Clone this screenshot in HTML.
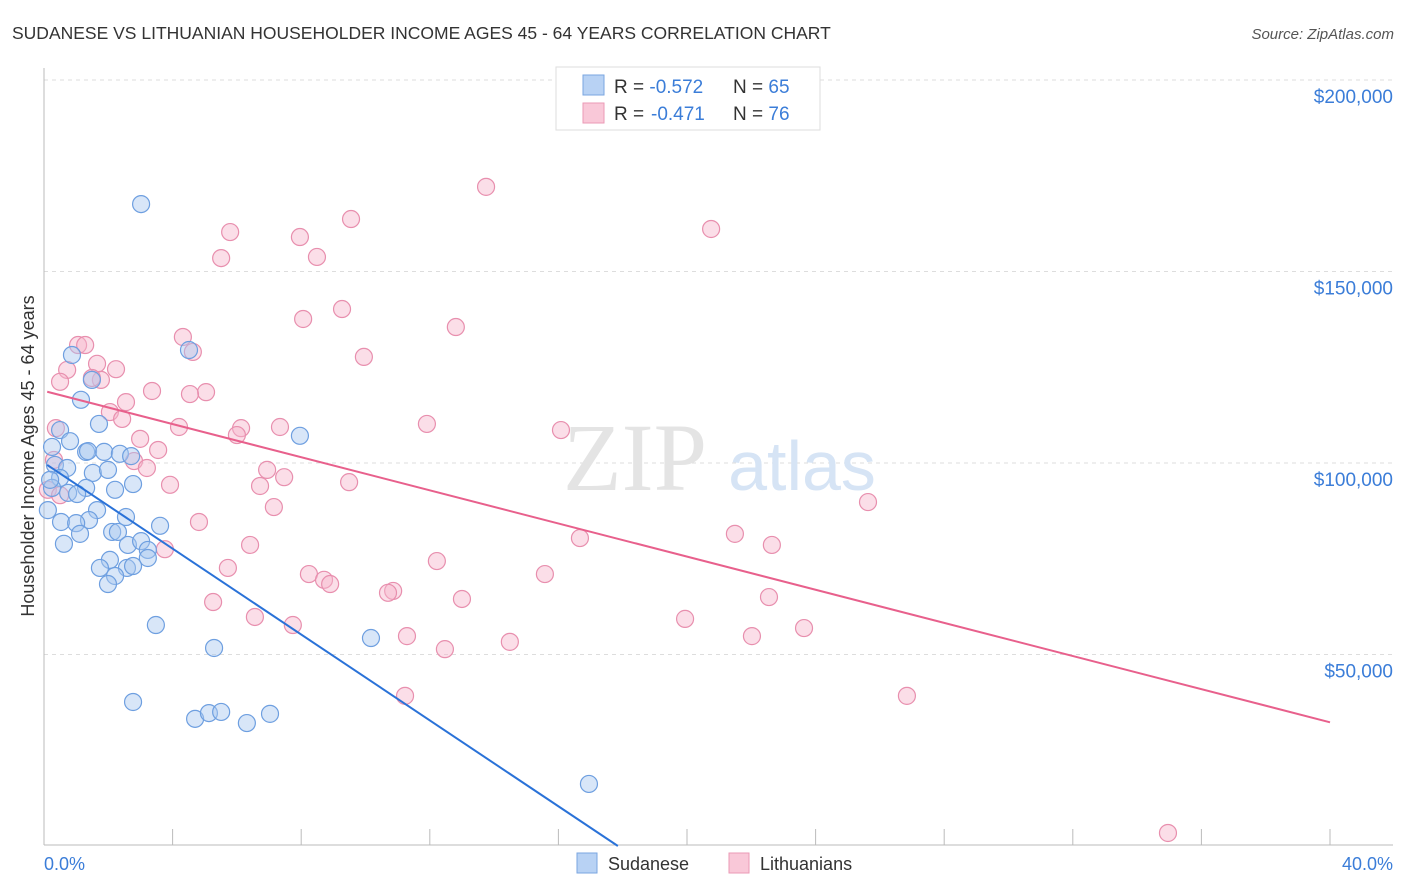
<!DOCTYPE html>
<html><head><meta charset="utf-8">
<style>
body{margin:0;background:#fff;font-family:"Liberation Sans",sans-serif;}
svg{display:block}
</style></head>
<body>
<svg id="chart" width="1406" height="892" viewBox="0 0 1406 892">
<text x="12" y="39" font-size="17.5" fill="#333">SUDANESE VS LITHUANIAN HOUSEHOLDER INCOME AGES 45 - 64 YEARS CORRELATION CHART</text>
<text x="1394" y="39" font-size="15" fill="#555" font-style="italic" text-anchor="end">Source: ZipAtlas.com</text>
<g id="grid"></g>
<text x="635" y="490" font-size="96" fill="#e4e4e4" font-family="Liberation Serif,serif" text-anchor="middle">ZIP</text>
<text x="802" y="490" font-size="70" fill="#d6e4f5" text-anchor="middle">atlas</text>
<line x1="44" y1="68" x2="44" y2="845" stroke="#bbb"/>
<line x1="44" y1="845" x2="1393" y2="845" stroke="#bbb"/>
<g id="xticks"></g>
<g id="ylabels"></g>
<text transform="translate(34,456) rotate(-90)" font-size="18" fill="#333" text-anchor="middle">Householder Income Ages 45 - 64 years</text>
<text x="44" y="870" font-size="18" fill="#3b7dd8">0.0%</text>
<text x="1393" y="870" font-size="18" fill="#3b7dd8" text-anchor="end">40.0%</text>
<g id="points-lit"></g>
<g id="points-sud"></g>
<g id="lines"></g>
<g>
<rect x="556" y="67" width="264" height="63" fill="#fff" stroke="#ddd"/>
<rect x="583" y="75" width="21" height="20" fill="#b8d2f4" stroke="#7aa6e0"/>
<rect x="583" y="103" width="21" height="20" fill="#f9c8d8" stroke="#eb9ab6"/>
<text x="614" y="93" font-size="19" fill="#333">R = <tspan fill="#3b7dd8">-0.572</tspan><tspan x="733">N = </tspan><tspan fill="#3b7dd8">65</tspan></text>
<text x="614" y="120" font-size="19" fill="#333">R = <tspan fill="#3b7dd8" x="651">-0.471</tspan><tspan x="733">N = </tspan><tspan fill="#3b7dd8">76</tspan></text>
</g>
<g>
<rect x="577" y="853" width="20" height="20" fill="#b8d2f4" stroke="#7aa6e0"/>
<text x="608" y="870" font-size="18" fill="#333">Sudanese</text>
<rect x="729" y="853" width="20" height="20" fill="#f9c8d8" stroke="#eb9ab6"/>
<text x="760" y="870" font-size="18" fill="#333">Lithuanians</text>
</g>
</svg>
<script>
const yTicks=[50,100,150,200];
const yTickLabels=["$50,000","$100,000","$150,000","$200,000"];
const xTicks=[0,4,8,12,16,20,24,28,32,36,40];
const sudX=[3.02,0.87,1.49,1.15,4.51,7.96,1.71,0.50,0.81,0.25,1.31,1.37,1.87,2.36,2.71,0.34,0.72,1.52,1.99,0.50,1.31,2.21,2.77,0.25,0.75,1.03,1.65,2.55,0.53,1.40,1.00,3.61,2.12,2.30,1.12,0.62,2.61,3.02,3.23,3.23,2.05,1.74,2.58,2.77,2.21,1.99,3.48,10.17,5.29,2.77,4.70,5.13,5.51,6.31,7.03,16.95,0.12,0.19];
const sudY=[167.6,128.2,121.7,116.5,129.5,107.1,110.2,108.6,105.7,104.2,102.9,103.1,102.9,102.4,101.8,99.5,98.7,97.4,98.2,96.1,93.5,93.0,94.5,93.5,92.2,91.9,87.7,85.9,84.6,85.1,84.3,83.6,82.0,82.0,81.5,78.9,78.6,79.6,77.3,75.2,74.7,72.6,72.6,73.1,70.5,68.4,57.7,54.3,51.7,37.6,33.2,34.7,35.0,32.1,34.5,16.2,87.7,95.6];
const litX=[13.75,20.75,9.55,5.79,7.96,5.51,8.49,9.27,8.06,12.81,4.32,1.06,1.28,4.63,9.95,1.65,2.24,0.72,0.50,1.77,1.49,3.36,5.04,4.54,2.55,2.05,2.43,4.20,6.13,7.34,11.91,16.08,2.99,6.00,0.37,3.55,2.80,3.20,6.94,7.47,6.72,9.49,3.92,25.63,7.15,4.82,21.49,16.67,6.41,22.64,3.76,12.22,5.72,8.24,15.58,8.71,8.90,10.86,10.70,5.26,13.00,22.55,7.74,6.56,19.94,23.64,11.29,22.02,14.49,12.47,11.23,26.84,34.96,0.12,0.50,0.31];
const litY=[172.1,161.1,163.7,160.3,159.0,153.5,153.8,140.2,137.6,135.5,132.9,130.8,130.8,129.0,127.7,125.9,124.5,124.3,121.2,121.7,122.2,118.8,118.5,118.0,115.9,113.3,111.5,109.4,109.1,109.4,110.2,108.6,106.3,107.3,109.1,103.4,100.5,98.7,98.2,96.3,94.0,95.0,94.3,89.8,88.5,84.6,81.5,80.4,78.6,78.6,77.5,74.4,72.6,71.0,71.0,69.5,68.4,66.6,66.1,63.7,64.5,65.0,57.7,59.8,59.3,56.9,54.8,54.8,53.3,51.4,39.2,39.2,3.4,93.0,91.6,100.8];
const sudLine=[0.1,99.5,17.85,0];
const litLine=[0.1,118.6,40,32.3];
const NS="http://www.w3.org/2000/svg";
function sx(v){return 44+v*32.15;}
function sy(v){return 846-v*3.83;}
function mk(tag,attrs,parent){const e=document.createElementNS(NS,tag);for(const k in attrs)e.setAttribute(k,attrs[k]);parent.appendChild(e);return e;}
const grid=document.getElementById('grid'),yl=document.getElementById('ylabels');
yTicks.forEach((t,i)=>{
 const l=mk('line',{x1:44,x2:1393,y1:sy(t),y2:sy(t),stroke:'#ddd','stroke-dasharray':'4,4'},grid);
 
 
 const tx=mk('text',{x:1393,y:sy(t)+23,'font-size':19,fill:'#3b7dd8','text-anchor':'end'},yl);
 tx.textContent=yTickLabels[i];
 
 
});
const xt=document.getElementById('xticks');
xTicks.forEach(t=>{
 const l=mk('line',{x1:sx(t),x2:sx(t),y1:829,y2:845,stroke:'#bbb'},xt);
 
 
});
function pts(xs,ys,g,fill,stroke,name){
 const p=document.getElementById(g);
 xs.forEach((x,i)=>{
  const c=mk('circle',{cx:sx(x),cy:sy(ys[i]),r:8.5,fill:fill,'fill-opacity':0.45,stroke:stroke,'stroke-width':1.2},p);
  
  
 });
}
pts(litX,litY,'points-lit','#f6b6cb','#e88fae','lithuanian-point');
pts(sudX,sudY,'points-sud','#a9c8f0','#6e9fe0','sudanese-point');
const lg=document.getElementById('lines');
const a=mk('line',{x1:sx(sudLine[0]),y1:sy(sudLine[1]),x2:sx(sudLine[2]),y2:sy(sudLine[3]),stroke:'#2a72d8','stroke-width':2},lg);


const b=mk('line',{x1:sx(litLine[0]),y1:sy(litLine[1]),x2:sx(litLine[2]),y2:sy(litLine[3]),stroke:'#e8608c','stroke-width':2},lg);


</script>
</body></html>
